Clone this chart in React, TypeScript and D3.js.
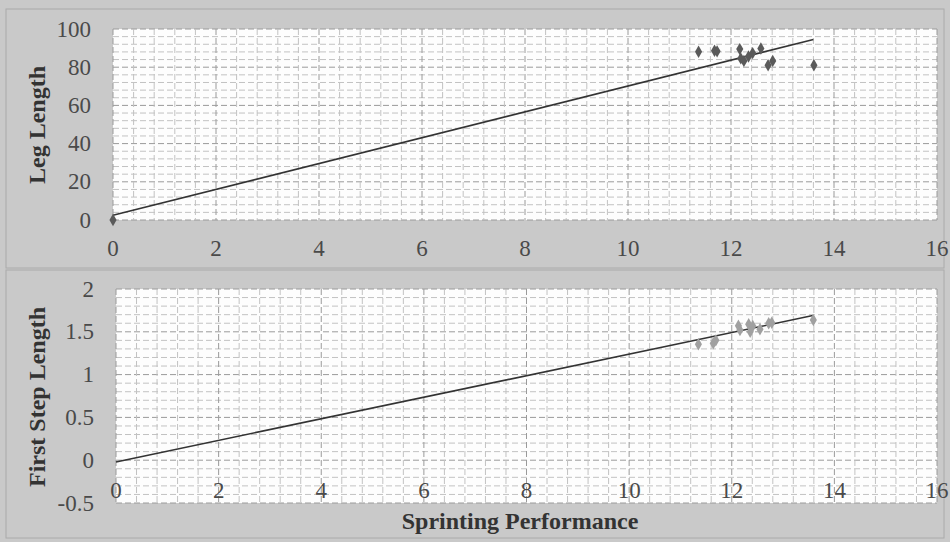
import React from "react";
import * as d3 from "d3";

// Sprinting performance (x) shared by both panels
const legX = [0, 11.37, 11.68, 11.73, 12.17, 12.19, 12.25, 12.34, 12.42, 12.58, 12.72, 12.81, 13.61];
const legY = [0, 88.1, 88.6, 88.3, 89.5, 84.6, 83.3, 85.6, 87.4, 89.8, 81, 83.3, 81];
const stepX = [11.35, 11.64, 11.69, 12.13, 12.16, 12.33, 12.36, 12.41, 12.55, 12.72, 12.78, 13.59];
const stepY = [1.354, 1.366, 1.4, 1.571, 1.52, 1.588, 1.5, 1.568, 1.53, 1.6, 1.606, 1.638];

const legTrendX = [0, 13.6];
const legTrendY = [2.5, 94.5];
const stepTrendX = [0, 13.58];
const stepTrendY = [-0.02, 1.69];

const xTicks = [0, 2, 4, 6, 8, 10, 12, 14, 16];
const legTicks = [0, 20, 40, 60, 80, 100];
const stepTicks = [-0.5, 0, 0.5, 1, 1.5, 2];

const W = 950;
const H = 542;
const serif = "'Liberation Serif', 'DejaVu Serif', serif";

type PanelProps = {
  left: number;
  right: number;
  top: number;
  bottom: number;
  yDomain: [number, number];
  yTicks: number[];
  yMinor: number;
  xs: number[];
  ys: number[];
  trendX: number[];
  trendY: number[];
  markerFill: string;
  xLabelY: number;
  title: string;
  titleY: number;
};

function Panel(p: PanelProps) {
  const x = d3.scaleLinear().domain([0, 16]).range([p.left, p.right]);
  const y = d3.scaleLinear().domain(p.yDomain).range([p.bottom, p.top]);

  // minor verticals every 0.4, horizontals every yMinor
  const xMinor = d3.range(0, 41).map((i) => +(i * 0.4).toFixed(2));
  const nY = Math.round((p.yDomain[1] - p.yDomain[0]) / p.yMinor);
  const yMinor = d3.range(0, nY + 1).map((i) => +(p.yDomain[0] + i * p.yMinor).toFixed(3));

  const line = d3
    .line<number>()
    .x((_, i) => x(p.trendX[i]))
    .y((d) => y(d));

  const diamond = d3.symbol(d3.symbolDiamond, 44)();

  return (
    <g>
      <rect x={p.left} y={p.top} width={p.right - p.left} height={p.bottom - p.top} fill="#fdfdfd" />
      {yMinor.map((v, i) => (
        <line
          key={"hy" + v}
          x1={p.left}
          x2={p.right}
          y1={y(v)}
          y2={y(v)}
          stroke={i % 5 === 0 ? "#9a9a9a" : "#c2c2c2"}
          strokeWidth={1}
          strokeDasharray="6,3"
        />
      ))}
      {xMinor.map((v, i) => (
        <line
          key={"vx" + v}
          x1={x(v)}
          x2={x(v)}
          y1={p.top}
          y2={p.bottom}
          stroke={i % 5 === 0 ? "#9a9a9a" : "#c2c2c2"}
          strokeWidth={1}
          strokeDasharray="6,3"
        />
      ))}
      <path d={line(p.trendY) || ""} fill="none" stroke="#333" strokeWidth={1.6} />
      {p.xs.map((v, i) => (
        <path
          key={"pt" + i}
          d={diamond || ""}
          transform={`translate(${x(v)},${y(p.ys[i])})`}
          fill={p.markerFill}
        />
      ))}
      {p.yTicks.map((t) => (
        <text
          key={"yt" + t}
          x={p.left - 22}
          y={y(t)}
          textAnchor="end"
          dominantBaseline="central"
          fontFamily={serif}
          fontSize={23}
          fill="#4a4a4a"
        >
          {t}
        </text>
      ))}
      {xTicks.map((t) => (
        <text
          key={"xt" + t}
          x={x(t)}
          y={p.xLabelY}
          textAnchor="middle"
          dominantBaseline="central"
          fontFamily={serif}
          fontSize={23}
          fill="#4a4a4a"
        >
          {t}
        </text>
      ))}
      <text
        transform={`translate(37,${p.titleY}) rotate(-90)`}
        textAnchor="middle"
        dominantBaseline="central"
        fontFamily={serif}
        fontWeight="bold"
        fontSize={24}
        fill="#333"
      >
        {p.title}
      </text>
    </g>
  );
}

export default function App() {
  return (
    <svg
      width={W}
      height={H}
      style={{ position: "absolute", left: 0, top: 0 }}
    >
      <rect x={0} y={0} width={W} height={H} fill="#c9c9c9" />
      <rect x={6} y={9} width={W - 12} height={259} fill="none" stroke="#aaa" strokeWidth={1} />
      <rect x={6} y={270} width={W - 12} height={268} fill="none" stroke="#aaa" strokeWidth={1} />
      <Panel
        left={113}
        right={937}
        top={29}
        bottom={220}
        yDomain={[0, 100]}
        yTicks={legTicks}
        yMinor={4}
        xs={legX}
        ys={legY}
        trendX={legTrendX}
        trendY={legTrendY}
        markerFill="#5a5a5a"
        xLabelY={248}
        title="Leg Length"
        titleY={125}
      />
      <Panel
        left={116}
        right={937}
        top={289}
        bottom={503}
        yDomain={[-0.5, 2]}
        yTicks={stepTicks}
        yMinor={0.1}
        xs={stepX}
        ys={stepY}
        trendX={stepTrendX}
        trendY={stepTrendY}
        markerFill="#a0a0a0"
        xLabelY={490}
        title="First Step Length"
        titleY={397}
      />
      <text
        x={520}
        y={521}
        textAnchor="middle"
        dominantBaseline="central"
        fontFamily={serif}
        fontWeight="bold"
        fontSize={24}
        fill="#333"
      >
        Sprinting Performance
      </text>
    </svg>
  );
}
